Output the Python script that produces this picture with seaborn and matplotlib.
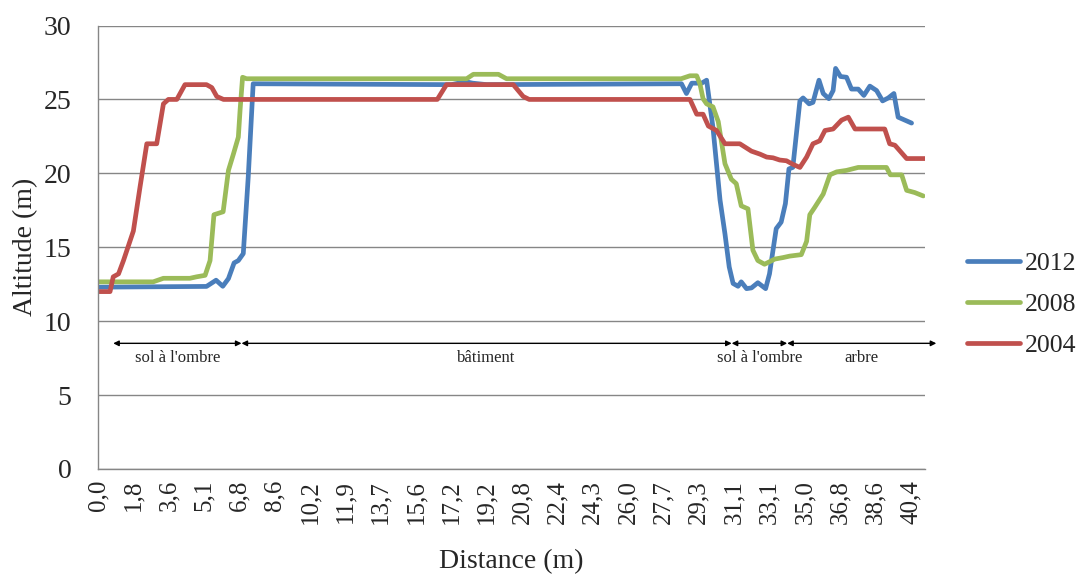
import matplotlib
matplotlib.use("Agg")
import matplotlib.pyplot as plt
import numpy as np
import pandas as pd
import seaborn as sns

sns.set_style("white")
plt.rcParams["font.family"] = ["Liberation Serif", "DejaVu Serif"]

# sample index along the profile (category axis) and altitude in m
idx_2012 = [0, 30.7, 33.4, 35.3, 36.9, 38.5, 39.7, 41.1, 42.5, 43.9,
            100, 104, 106, 110, 165.1, 166.5, 168, 170.8, 172.2, 174,
            176, 177.4, 178.6, 179.7, 181.1, 182, 183.5, 184.9, 186.7, 188.9,
            190, 191.9, 193.3, 194.5, 195.5, 196.6, 198.6, 199.5, 201.2, 202.3,
            204, 205.2, 206.8, 208, 208.7, 210.1, 211.8, 213.2, 215.1, 216.7,
            218.4, 220.3, 222, 223.6, 225.2, 226.4, 228.3, 230.2]
alt_2012 = [12.3, 12.35, 12.77, 12.36, 12.88, 13.94, 14.1, 14.57, 19.75, 26.06,
            26.0, 26.2, 26.1, 26.0, 26.06, 25.4, 26.1, 26.1, 26.3, 23.1,
            18.2, 15.9, 13.67, 12.55, 12.36, 12.66, 12.2, 12.25, 12.6, 12.2,
            13.2, 16.26, 16.7, 17.95, 20.3, 20.4, 24.9, 25.1, 24.7, 24.8,
            26.3, 25.4, 25.05, 25.6, 27.1, 26.55, 26.5, 25.7, 25.7, 25.27,
            25.9, 25.6, 24.9, 25.1, 25.4, 23.8, 23.6, 23.4]

idx_2008 = [0, 15.6, 18.5, 26, 27.9, 30.3, 31.7, 32.8, 35.4, 36.9,
            38.3, 39.7, 40.2, 40.9, 42, 104.3, 106.2, 113.3, 115.6, 165,
            167.5, 169.4, 170.3, 171.2, 172.2, 174, 175.5, 177.4, 179.2, 180.6,
            182, 183.9, 185.3, 186.7, 188.6, 191.5, 193.8, 195.7, 199, 200.5,
            201.4, 202.8, 205.2, 207.1, 209, 211.8, 215.1, 223.1, 224.2, 227.4,
            228.8, 231.1, 233.5]
alt_2008 = [12.66, 12.66, 12.9, 12.9, 13.0, 13.1, 14.1, 17.2, 17.4, 20.2,
            21.3, 22.45, 24.3, 26.5, 26.4, 26.4, 26.7, 26.7, 26.4, 26.4,
            26.6, 26.6, 26.06, 25.05, 24.7, 24.5, 23.5, 20.65, 19.6, 19.3,
            17.8, 17.6, 14.8, 14.1, 13.85, 14.2, 14.3, 14.4, 14.5, 15.4,
            17.2, 17.7, 18.6, 19.9, 20.1, 20.2, 20.4, 20.4, 19.9, 19.9,
            18.85, 18.7, 18.47]

idx_2004 = [0, 3.4, 4.3, 5.8, 7.2, 10, 11.9, 13.8, 16.6, 18.5,
            19.9, 22.3, 24.6, 30.7, 32.2, 33.6, 35.5, 96, 98.6, 117.5,
            120.3, 122, 167.5, 169.4, 171.2, 172.7, 175, 177.4, 181.6, 184.9,
            187.3, 189.2, 191, 192.9, 194.8, 196.7, 198.6, 200.5, 202.3, 204.2,
            205.7, 208, 210.4, 212.3, 214.2, 222.6, 224, 225.5, 228.8, 234]
alt_2004 = [12, 12, 13.0, 13.2, 14.1, 16.1, 19.1, 22.0, 22.0, 24.7,
            25.0, 25.0, 26.0, 26.0, 25.8, 25.2, 25.0, 25.0, 26.0, 26.0,
            25.2, 25.0, 25.0, 24.0, 24.0, 23.2, 22.9, 22.0, 22.0, 21.5,
            21.3, 21.1, 21.05, 20.9, 20.85, 20.6, 20.4, 21.1, 22.0, 22.2,
            22.9, 23.0, 23.6, 23.8, 23.0, 23.0, 22.0, 21.9, 21.0, 21.0]

years = ["2012", "2008", "2004"]
colors = {"2012": "#4A7EBB", "2008": "#9BBB59", "2004": "#C0504D"}

distance_labels = ["0,0", "1,8", "3,6", "5,1", "6,8", "8,6", "10,2", "11,9",
                   "13,7", "15,6", "17,2", "19,2", "20,8", "22,4", "24,3", "26,0",
                   "27,7", "29,3", "31,1", "33,1", "35,0", "36,8", "38,6", "40,4"]
label_step = 10

zone_bounds = [4.3, 40.6, 179.3, 195.0, 237.2]
zone_names = ["sol à l'ombre", "bâtiment", "sol à l'ombre", "arbre"]

frames = []
for year, idx, alt in [("2012", idx_2012, alt_2012),
                       ("2008", idx_2008, alt_2008),
                       ("2004", idx_2004, alt_2004)]:
    frames.append(pd.DataFrame({"point": idx, "altitude": alt, "year": year}))
df = pd.concat(frames, ignore_index=True)

fig, ax = plt.subplots(figsize=(10.82, 5.76), dpi=100)
fig.subplots_adjust(left=0.0906, right=0.8549, bottom=0.1858, top=0.9557)

sns.lineplot(data=df, x="point", y="altitude", hue="year", hue_order=years,
             palette=colors, sort=False, estimator=None, linewidth=3.4,
             solid_joinstyle="round", solid_capstyle="round", ax=ax)

ax.set_xlim(0, 234)
ax.set_ylim(0, 30)
ax.set_yticks(range(0, 31, 5))
ax.set_xticks(np.arange(len(distance_labels)) * label_step)
ax.set_xticklabels(distance_labels, rotation=90, fontsize=18)
ax.tick_params(axis="x", length=5, width=1, color="#868686", pad=3)
ax.tick_params(axis="y", length=0, pad=19, labelsize=20)
ax.yaxis.grid(True, color="#868686", linewidth=1)
ax.set_axisbelow(True)
for side in ["top", "right"]:
    ax.spines[side].set_visible(False)
for side in ["left", "bottom"]:
    ax.spines[side].set_color("#868686")
    ax.spines[side].set_linewidth(1)

# zone annotations
for a, b, name in zip(zone_bounds[:-1], zone_bounds[1:], zone_names):
    ax.annotate("", xy=(b, 8.5), xytext=(a, 8.5), annotation_clip=False,
                arrowprops=dict(arrowstyle="<|-|>", color="black", lw=1,
                                mutation_scale=8, shrinkA=0, shrinkB=0))
    ax.text((a + b) / 2, 7.5, name, ha="center", va="center", fontsize=12)

ax.set_xlabel("Distance (m)", fontsize=20, labelpad=18)
ax.set_ylabel("Altitude (m)", fontsize=20, labelpad=4)

handles, labels = ax.get_legend_handles_labels()
ax.legend(handles, labels, loc="center left", bbox_to_anchor=(0.8937, 0.4714),
          bbox_transform=fig.transFigure, frameon=False, fontsize=18.5,
          handlelength=2.06, handletextpad=0.2, labelspacing=0.7,
          borderpad=0, borderaxespad=0)

fig.savefig("out.png", dpi=100)
